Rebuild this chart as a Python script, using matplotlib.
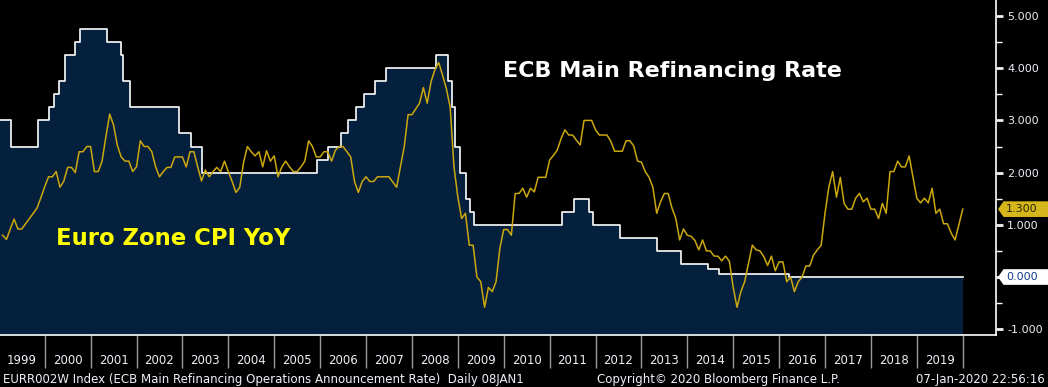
import matplotlib
matplotlib.use('Agg')
import matplotlib.pyplot as plt
import matplotlib.transforms as mtransforms
from matplotlib.patches import Polygon
import numpy as np
import pandas as pd


# ECB main refinancing rate: date of change and new level (%)
ecb_dates = ['1999-01-01', '1999-04-09', '1999-11-05', '2000-02-04', '2000-03-17',
             '2000-04-28', '2000-06-09', '2000-09-01', '2000-10-06', '2001-05-11',
             '2001-08-31', '2001-09-18', '2001-11-09', '2002-12-06', '2003-03-07',
             '2003-06-06', '2005-12-06', '2006-03-08', '2006-06-15', '2006-08-09',
             '2006-10-11', '2006-12-13', '2007-03-14', '2007-06-13', '2008-07-09',
             '2008-10-15', '2008-11-12', '2008-12-10', '2009-01-21', '2009-03-11',
             '2009-04-08', '2009-05-13', '2011-04-13', '2011-07-13', '2011-11-09',
             '2011-12-14', '2012-07-11', '2013-05-08', '2013-11-13', '2014-06-11',
             '2014-09-10', '2016-03-16', '2020-01-07']
ecb_rates = [3.00, 2.50, 3.00, 3.25, 3.50, 3.75, 4.25, 4.50, 4.75, 4.50,
             4.25, 3.75, 3.25, 2.75, 2.50, 2.00, 2.25, 2.50, 2.75, 3.00,
             3.25, 3.50, 3.75, 4.00, 4.25, 3.75, 3.25, 2.50, 2.00, 1.50,
             1.25, 1.00, 1.25, 1.50, 1.25, 1.00, 0.75, 0.50, 0.25, 0.15,
             0.05, 0.00, 0.00]

# Euro Zone CPI YoY, monthly Jan..Dec
cpi_1999 = [0.80, 0.72, 0.92, 1.11, 0.92, 0.92, 1.02, 1.12, 1.22, 1.32, 1.52, 1.73]
cpi_2000 = [1.92, 1.92, 2.02, 1.72, 1.84, 2.10, 2.10, 2.00, 2.40, 2.40, 2.50, 2.50]
cpi_2001 = [2.02, 2.02, 2.22, 2.69, 3.12, 2.91, 2.52, 2.30, 2.22, 2.22, 2.02, 2.11]
cpi_2002 = [2.61, 2.50, 2.50, 2.40, 2.11, 1.92, 2.02, 2.10, 2.10, 2.30, 2.30, 2.30]
cpi_2003 = [2.11, 2.40, 2.40, 2.11, 1.84, 2.05, 1.92, 2.02, 2.10, 2.02, 2.22, 2.02]
cpi_2004 = [1.83, 1.62, 1.72, 2.20, 2.50, 2.40, 2.32, 2.40, 2.11, 2.42, 2.22, 2.32]
cpi_2005 = [1.92, 2.11, 2.22, 2.11, 2.02, 2.02, 2.11, 2.22, 2.61, 2.50, 2.30, 2.30]
cpi_2006 = [2.40, 2.40, 2.22, 2.43, 2.50, 2.50, 2.40, 2.30, 1.83, 1.62, 1.83, 1.92]
cpi_2007 = [1.83, 1.83, 1.92, 1.92, 1.92, 1.92, 1.82, 1.72, 2.11, 2.50, 3.11, 3.11]
cpi_2008 = [3.22, 3.33, 3.63, 3.33, 3.74, 3.97, 4.11, 3.87, 3.61, 3.26, 2.11, 1.54]
cpi_2009 = [1.12, 1.22, 0.61, 0.61, 0.00, -0.09, -0.58, -0.20, -0.28, -0.09, 0.55, 0.91]
cpi_2010 = [0.91, 0.80, 1.60, 1.60, 1.70, 1.53, 1.70, 1.63, 1.91, 1.91, 1.91, 2.24]
cpi_2011 = [2.33, 2.43, 2.65, 2.82, 2.72, 2.72, 2.62, 2.53, 3.00, 3.00, 3.00, 2.82]
cpi_2012 = [2.72, 2.72, 2.72, 2.60, 2.41, 2.41, 2.41, 2.61, 2.61, 2.51, 2.22, 2.20]
cpi_2013 = [2.02, 1.91, 1.72, 1.22, 1.44, 1.60, 1.60, 1.32, 1.12, 0.71, 0.92, 0.80]
cpi_2014 = [0.78, 0.70, 0.52, 0.71, 0.50, 0.50, 0.40, 0.40, 0.31, 0.40, 0.30, -0.20]
cpi_2015 = [-0.58, -0.28, -0.09, 0.26, 0.61, 0.52, 0.50, 0.39, 0.22, 0.40, 0.12, 0.29]
cpi_2016 = [0.29, -0.09, 0.00, -0.28, -0.09, 0.00, 0.21, 0.21, 0.42, 0.52, 0.61, 1.22]
cpi_2017 = [1.72, 2.02, 1.53, 1.91, 1.41, 1.30, 1.30, 1.51, 1.60, 1.44, 1.51, 1.30]
cpi_2018 = [1.30, 1.12, 1.41, 1.22, 2.02, 2.02, 2.22, 2.11, 2.11, 2.32, 1.91, 1.51]
cpi_2019 = [1.42, 1.51, 1.42, 1.70, 1.22, 1.30, 1.02, 1.02, 0.84, 0.71, 1.00, 1.30]

years = list(range(1999, 2020))
y_ticks = [-1, 0, 1, 2, 3, 4, 5]

navy = '#05203d'
gold = '#cba80e'
txt = '#eef0f8'


def dec_year(dates):
    d = pd.to_datetime(dates)
    return d.year + (d.dayofyear - 1) / np.where(d.is_leap_year, 366.0, 365.0)


ecb_x = dec_year(ecb_dates)
cpi = np.concatenate([cpi_1999, cpi_2000, cpi_2001, cpi_2002, cpi_2003, cpi_2004,
                      cpi_2005, cpi_2006, cpi_2007, cpi_2008, cpi_2009, cpi_2010,
                      cpi_2011, cpi_2012, cpi_2013, cpi_2014, cpi_2015, cpi_2016,
                      cpi_2017, cpi_2018, cpi_2019])
# values are month-end observations
cpi_x = 1999 + (np.arange(len(cpi)) + 1) / 12.0

W, H = 1048, 387
fig = plt.figure(figsize=(W / 100, H / 100), dpi=100, facecolor='black')
ax = fig.add_axes([0, 52 / H, 996 / W, 335 / H], facecolor='black')

ax.fill_between(ecb_x, ecb_rates, -5, step='post', color=navy, lw=0, zorder=1)
ax.step(ecb_x, ecb_rates, where='post', color='white', lw=1.2, zorder=2)
ax.plot(cpi_x, cpi, color=gold, lw=1.1, zorder=3)

ax.set_xlim(2000 - 44.7 / 45.9, 2000 + (996 - 44.7) / 45.9)
ax.set_ylim(-1.111, 5.307)

for s in ['top', 'left']:
    ax.spines[s].set_visible(False)
for s in ['right', 'bottom']:
    ax.spines[s].set_color('white')
    ax.spines[s].set_linewidth(1.2)

# right value axis
ax.yaxis.tick_right()
ax.set_yticks(y_ticks)
ax.set_yticklabels([f'{v:.3f}' for v in y_ticks])
ax.set_yticks(np.arange(-0.5, 5.0, 1.0), minor=True)
ax.tick_params(axis='y', which='major', colors=txt, length=5, width=2, pad=3,
               labelsize=8)
ax.tick_params(axis='y', which='minor', color='white', length=4, width=1)

# year boxes on the time axis
ax.set_xticks(list(range(2000, 2021)))
ax.set_xticklabels([])
ax.set_xticks([y + 0.5 for y in years], minor=True)
ax.set_xticklabels([str(y) for y in years], minor=True)
ax.tick_params(axis='x', which='major', color='#9a9a9a', length=24, width=1)
ax.tick_params(axis='x', which='minor', length=0, pad=13.5, colors=txt, labelsize=8.5)

# last value markers on the axis
lab = mtransforms.blended_transform_factory(fig.transFigure, ax.transData)
x0, x1, x2 = 998 / W, 1003.5 / W, 1.0
h = 0.15
for val, face, col in [(cpi[-1], '#d6b71b', '#2a2300'), (ecb_rates[-1], 'white', '#123a8c')]:
    box = Polygon([(x0, val), (x1, val + h), (x2, val + h), (x2, val - h), (x1, val - h)],
                  closed=True, transform=lab, facecolor=face, edgecolor='none',
                  clip_on=False, zorder=10)
    ax.add_patch(box)
    ax.text(1006 / W, val, f'{val:.3f}', transform=lab, color=col, fontsize=8,
            va='center', ha='left', zorder=11, clip_on=False)

# annotations
ax.text(2013.67, 3.84, 'ECB Main Refinancing Rate', color='white', fontsize=16,
        fontweight='bold', ha='center', va='baseline')
ax.text(2002.8, 0.613, 'Euro Zone CPI YoY', color='#ffff00', fontsize=16.4,
        fontweight='bold', ha='center', va='baseline')

# footer
fig.text(3 / W, 1 - 380 / H, 'EURR002W Index (ECB Main Refinancing Operations '
         'Announcement Rate)  Daily 08JAN1', color=txt, fontsize=8.5, va='center')
fig.text(597 / W, 1 - 380 / H, 'Copyright\u00a9 2020 Bloomberg Finance L.P.',
         color=txt, fontsize=8.5, va='center')
fig.text(1045 / W, 1 - 380 / H, '07-Jan-2020 22:56:16', color=txt, fontsize=8.5,
         va='center', ha='right')

fig.savefig('out.png', dpi=100, facecolor='black')
